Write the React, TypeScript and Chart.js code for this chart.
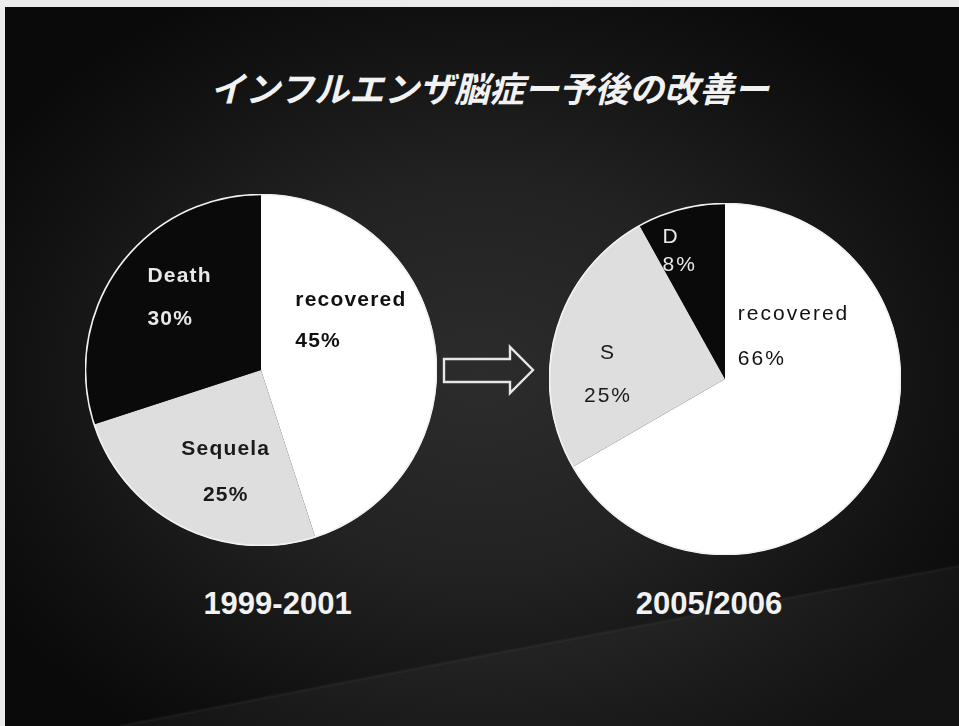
import React, { useEffect, useRef } from "react";
import { Chart, registerables } from "chart.js";

Chart.register(...registerables);

// ---- data ----
const TITLE = "インフルエンザ脳症ー予後の改善ー";

const periodA = "1999-2001";
const categoriesA = ["recovered", "Sequela", "Death"];
const valuesA = [45, 25, 30];

const periodB = "2005/2006";
const categoriesB = ["recovered", "Sequela", "Death"];
const shownLabelsB = ["recovered", "S", "D"];
const valuesB = [66, 25, 8];

const sliceColors = ["#ffffff", "#dedede", "#0a0a0a"];
const labelColors = ["#111111", "#1a1a1a", "#e8e8e8"];

type Placement = { angle: number; radius: number; gap: number; align: CanvasTextAlign };

const sliceLabelPlugin = {
  id: "sliceLabels",
  afterDatasetsDraw(chart: any, _args: any, opts: any) {
    const meta = chart.getDatasetMeta(0);
    const ctx: CanvasRenderingContext2D = chart.ctx;
    const data = chart.data.datasets[0].data as number[];
    const texts: string[] = opts.texts;
    let cx = 0, cy = 0, r = 0;
    meta.data.forEach((arc: any, i: number) => {
      const p = arc.getProps(["x", "y", "outerRadius"], true);
      cx = p.x; cy = p.y; r = p.outerRadius;
      const pl: Placement = opts.placements[i];
      const a = ((pl.angle - 90) * Math.PI) / 180;
      const ax = p.x + Math.cos(a) * p.outerRadius * pl.radius;
      const ay = p.y + Math.sin(a) * p.outerRadius * pl.radius;
      ctx.save();
      ctx.font = opts.font;
      (ctx as any).letterSpacing = opts.letterSpacing;
      ctx.fillStyle = labelColors[i];
      ctx.textAlign = pl.align;
      ctx.textBaseline = "middle";
      ctx.fillText(texts[i], ax, ay - pl.gap / 2);
      ctx.fillText(`${data[i]}%`, ax, ay + pl.gap / 2);
      ctx.restore();
    });
    // outer rim
    ctx.save();
    ctx.beginPath();
    ctx.arc(cx, cy, r - 0.5, 0, Math.PI * 2);
    ctx.strokeStyle = "#f2f2f2";
    ctx.lineWidth = 1.6;
    ctx.stroke();
    ctx.restore();
  },
};

function PieChart(props: {
  values: number[];
  categories: string[];
  texts: string[];
  placements: Placement[];
  font: string;
  letterSpacing: string;
}) {
  const ref = useRef<HTMLCanvasElement>(null);
  useEffect(() => {
    if (!ref.current) return;
    const chart = new Chart(ref.current, {
      type: "pie",
      data: {
        labels: props.categories,
        datasets: [
          {
            data: props.values,
            backgroundColor: sliceColors,
            borderWidth: 0,
          },
        ],
      },
      options: {
        animation: false,
        responsive: false,
        maintainAspectRatio: false,
        layout: { padding: 0 },
        plugins: {
          legend: { display: false },
          tooltip: { enabled: false },
          title: { display: false },
          sliceLabels: {
            texts: props.texts,
            placements: props.placements,
            font: props.font,
            letterSpacing: props.letterSpacing,
          },
        } as any,
      },
      plugins: [sliceLabelPlugin],
    });
    return () => chart.destroy();
  }, []);
  return <canvas ref={ref} width={352} height={352} style={{ width: 352, height: 352, display: "block" }} />;
}

const placementsA: Placement[] = [
  { angle: 35, radius: 0.34, gap: 41, align: "left" },
  { angle: 199, radius: 0.615, gap: 46, align: "center" },
  { angle: 302.5, radius: 0.765, gap: 43, align: "left" },
];
const placementsB: Placement[] = [
  { angle: 17, radius: 0.25, gap: 45, align: "left" },
  { angle: 272, radius: 0.665, gap: 43, align: "center" },
  { angle: 334, radius: 0.81, gap: 28, align: "left" },
];

export default function App() {
  const yearStyle: React.CSSProperties = {
    position: "absolute",
    width: 220,
    top: 586,
    height: 40,
    lineHeight: "40px",
    textAlign: "center",
    color: "#f2f2f2",
    font: "bold 31px 'Liberation Sans', Arial, sans-serif",
    whiteSpace: "nowrap",
  };
  return (
    <div
      style={{
        position: "absolute",
        left: 0,
        top: 0,
        width: 959,
        height: 726,
        overflow: "hidden",
        background:
          "radial-gradient(ellipse 60% 60% at 50% 52%, #2c2c2c 0%, #222222 45%, #121212 80%, #0a0a0a 100%)",
      }}
    >
      <svg width={959} height={726} style={{ position: "absolute", left: 0, top: 0 }}>
        <path d="M 120 726 Q 560 640 959 566 L 959 726 Z" fill="rgba(255,255,255,0.04)" />
        <path d="M 120 726 Q 560 640 959 566" fill="none" stroke="rgba(255,255,255,0.035)" strokeWidth={3} />
        <rect x={0} y={0} width={959} height={7} fill="#ececec" />
        <rect x={0} y={0} width={5} height={726} fill="#ececec" />
        <polygon
          points="444,359 510,359 510,347 533,370 510,393 510,382 444,382"
          fill="none"
          stroke="#e6e6e6"
          strokeWidth={2.4}
          strokeLinejoin="miter"
        />
      </svg>
      <div
        style={{
          position: "absolute",
          left: 210,
          top: 61,
          height: 35,
          lineHeight: "35px",
          whiteSpace: "nowrap",
          color: "#f2f2f2",
          font: "italic bold 35px 'Noto Sans CJK JP', sans-serif",
        }}
      >
        {TITLE}
      </div>
      <div style={{ position: "absolute", left: 85, top: 194 }}>
        <PieChart
          values={valuesA}
          categories={categoriesA}
          texts={categoriesA}
          placements={placementsA}
          font="bold 21px 'Liberation Sans', Arial, sans-serif"
          letterSpacing="1.2px"
        />
      </div>
      <div style={{ position: "absolute", left: 549, top: 203 }}>
        <PieChart
          values={valuesB}
          categories={categoriesB}
          texts={shownLabelsB}
          placements={placementsB}
          font="21px 'Liberation Sans', Arial, sans-serif"
          letterSpacing="2px"
        />
      </div>
      <div style={{ ...yearStyle, left: 277.5 - 110 }}>{periodA}</div>
      <div style={{ ...yearStyle, left: 709 - 110 }}>{periodB}</div>
    </div>
  );
}
